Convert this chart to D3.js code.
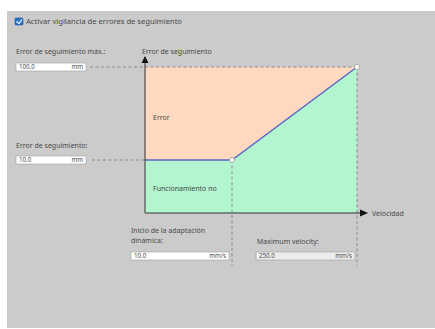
<!DOCTYPE html>
<html><head><meta charset="utf-8">
<script src="https://cdn.jsdelivr.net/npm/d3@7"></script>
<style>body{margin:0;background:#fff}svg{display:block}text{font-family:"Noto Sans",sans-serif;fill:#4a4a4a}</style>
</head><body>
<script>
// Data
const velocities = [0, 10.0, 250.0];       // mm/s: origin, start of dynamic adaptation, max velocity
const errors = [10.0, 10.0, 100.0];        // mm: following error at those velocities
const maxError = 100.0;
const fieldLabels = ["Error de seguimiento máx.:", "Error de seguimiento:", "Inicio de la adaptación", "dinámica:", "Maximum velocity:"];
const fieldValues = ["100.0", "10.0", "10.0", "250.0"];
const fieldUnits = ["mm", "mm", "mm/s", "mm/s"];
const axisTitles = ["Error de seguimiento", "Velocidad"];
const areaLabels = ["Error", "Funcionamiento no"];
const checkLabel = "Activar vigilancia de errores de seguimiento";

const W = 435, H = 329;
const svg = d3.select("body").append("svg").attr("width", W).attr("height", H);
svg.append("rect").attr("x", 7).attr("y", 11).attr("width", W - 7).attr("height", H - 12).attr("fill", "#cbcbcb");

// schematic (piecewise) scales
const x = d3.scaleLinear().domain([0, velocities[1], velocities[2]]).range([145, 232, 357]);
const y = d3.scaleLinear().domain([0, errors[0], maxError]).range([213, 160, 67]);

const pts = velocities.map((v, i) => [x(v), y(errors[i])]);

// orange (error) area
svg.append("path").attr("fill", "#fed9bf")
  .attr("d", d3.area().x(d => d[0]).y0(y(maxError)).y1(d => d[1])(pts));
// green area
svg.append("path").attr("fill", "#b2f5cf")
  .attr("d", d3.area().x(d => d[0]).y0(y(0)).y1(d => d[1])(pts));

// dashed guides
const dash = "3,2.5";
const g = svg.append("g").attr("stroke", "#8a8a8a").attr("stroke-dasharray", dash).attr("fill", "none");
g.append("line").attr("x1", 90).attr("x2", x(velocities[2])).attr("y1", y(maxError)).attr("y2", y(maxError));
g.append("line").attr("x1", 92).attr("x2", x(0)).attr("y1", y(errors[0])).attr("y2", y(errors[0]));
g.append("line").attr("x1", x(velocities[1])).attr("x2", x(velocities[1])).attr("y1", y(errors[1])).attr("y2", 266);
g.append("line").attr("x1", x(velocities[2])).attr("x2", x(velocities[2])).attr("y1", y(errors[2])).attr("y2", 266);

// main line
svg.append("path").attr("fill", "none").attr("stroke", "#5a67c7").attr("stroke-width", 1.5)
  .attr("d", d3.line()(pts));

// axes
svg.append("line").attr("x1", x(0)).attr("x2", x(0)).attr("y1", 60).attr("y2", y(0)).attr("stroke", "#333");
svg.append("line").attr("x1", x(0)).attr("x2", 361).attr("y1", y(0)).attr("y2", y(0)).attr("stroke", "#333");
svg.append("path").attr("fill", "#111").attr("d", `M${x(0)},56 L${x(0)-3.5},63 L${x(0)+3.5},63 Z`);
svg.append("path").attr("fill", "#111").attr("d", `M368,${y(0)} L360,${y(0)-3.5} L360,${y(0)+3.5} Z`);

// vertex markers
[pts[1], pts[2]].forEach(p => svg.append("circle").attr("cx", p[0]).attr("cy", p[1]).attr("r", 2.6)
  .attr("fill", "#fff").attr("stroke", "#999").attr("stroke-width", 0.8));

const fs = 7;
function txt(t, tx, ty, opt = {}) {
  return svg.append("text").attr("x", tx).attr("y", ty).attr("font-size", opt.fs || fs)
    .attr("text-anchor", opt.anchor || "start").text(t);
}
txt(axisTitles[0], 142, 54);
txt(axisTitles[1], 372, 216);
txt(areaLabels[0], 153, 120);
txt(areaLabels[1], 153, 191);

// checkbox
svg.append("rect").attr("x", 15).attr("y", 18).attr("width", 8).attr("height", 7).attr("rx", 1).attr("fill", "#2a74c9").attr("stroke", "#1b4f8e").attr("stroke-width", 0.6);
svg.append("path").attr("d", "M16.5,21.5 L19,23.5 L22,19.5").attr("stroke", "#fff").attr("stroke-width", 1.2).attr("fill", "none");
txt(checkLabel, 26, 24, {fs: 7.6});

// labels & input fields
txt(fieldLabels[0], 16, 54);
txt(fieldLabels[1], 16, 148);
txt(fieldLabels[2], 131, 233);
txt(fieldLabels[3], 131, 243);
txt(fieldLabels[4], 257, 244);

function field(bx, by, bw, val, unit, fill) {
  svg.append("rect").attr("x", bx).attr("y", by).attr("width", bw).attr("height", 8).attr("fill", fill).attr("stroke", "#a8a8a8").attr("stroke-width", 0.7);
  txt(val, bx + 3, by + 6.3, {fs: 6.2});
  txt(unit, bx + bw - 3, by + 6.3, {fs: 6.2, anchor: "end"});
}
field(16, 63, 70, fieldValues[0], fieldUnits[0], "#fff");
field(16, 156, 70, fieldValues[1], fieldUnits[1], "#fff");
field(131, 252, 98, fieldValues[2], fieldUnits[2], "#fff");
field(256, 252, 99, fieldValues[3], fieldUnits[3], "#ececec");
</script>
</body></html>
